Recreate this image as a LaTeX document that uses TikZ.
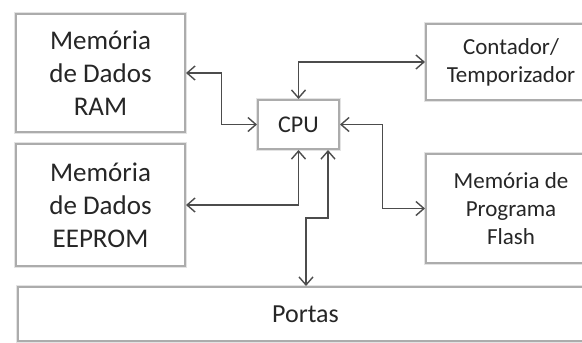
\documentclass[tikz,border=0pt]{standalone}
\usepackage{fontspec}
\setmainfont{Carlito}
\usetikzlibrary{arrows.meta,calc}

\tikzset{
  block/.style={
    draw=gray!65, line width=2pt, fill=white, inner sep=0pt,
    preaction={draw=gray!22, line width=4.5pt},
    anchor=north west, align=center, text=black!85
  },
  bigtext/.style={font=\fontsize{27}{33}\selectfont},
  smalltext/.style={font=\fontsize{23}{28}\selectfont},
  barb/.tip={Straight Barb[length=8pt,width=14pt,line width=1.4pt]},
  link/.style={draw=black!70, line width=1.4pt, barb-barb}
}

\begin{document}
\begin{tikzpicture}[x=1pt,y=-1pt]
\useasboundingbox (0,0) rectangle (582,343);

% memory blocks on the left
\node[block,bigtext,minimum width=169pt,minimum height=118pt] (ram) at (15,13)
  {Memória\\de Dados\\RAM};
\node[block,bigtext,minimum width=169pt,minimum height=122pt] (eep) at (15,143)
  {Memória\\de Dados\\EEPROM};

% processor
\node[block,font=\fontsize{24}{29}\selectfont,minimum width=81pt,minimum height=49pt] (cpu) at (257,99) {CPU};

% peripherals on the right (running past the page edge)
\node[block,smalltext,minimum width=170pt,minimum height=76pt] (cont) at (425,23)
  {Contador/\\Temporizador};
\node[block,smalltext,minimum width=170pt,minimum height=109pt] (flash) at (425,153)
  {Memória de\\Programa\\Flash};

% I/O ports along the bottom
\node[block,font=\fontsize{26}{31}\selectfont,minimum width=575pt,minimum height=54pt] (portas) at (17,286)
  {Portas};

% buses
\draw[link] (ram.east) -| ($(ram.east)!.5!(cpu.west)$) |- (cpu.west);
\draw[link] (cpu.north) |- (cont.west);
\draw[link] (cpu.east) -| ($(cpu.east)!.5!(flash.west)$) |- (flash.west);
\draw[link] (cpu.south) |- (eep.east);
\coordinate (pb) at (306,218);
\draw[link] ([xshift=29.5pt]cpu.south) |- (pb) -- (portas.north -| pb);
\end{tikzpicture}
\end{document}
